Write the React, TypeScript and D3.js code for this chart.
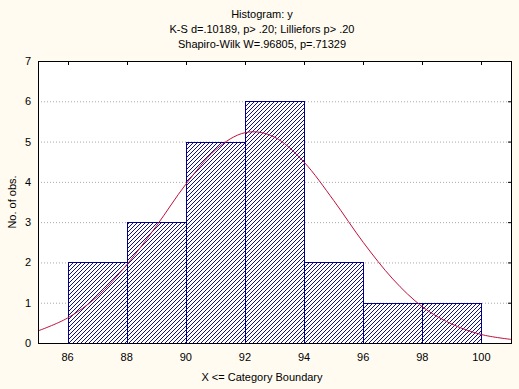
import React from 'react'
import * as d3 from 'd3'

// histogram bins (upper boundaries) and counts
const binEdges = [86, 88, 90, 92, 94, 96, 98, 100]
const counts = [2, 3, 5, 6, 2, 1, 1]

// fitted normal curve (expected counts)
const curveX = [85, 86, 87, 88, 89, 90, 91, 92, 93, 94, 95, 96, 97, 98, 99, 100, 101]
const curveY = [0.3, 0.62, 1.15, 1.94, 2.9, 3.94, 4.79, 5.22, 5.11, 4.49, 3.54, 2.5, 1.59, 0.9, 0.47, 0.21, 0.09]

const xTicks = [86, 88, 90, 92, 94, 96, 98, 100]
const yTicks = [0, 1, 2, 3, 4, 5, 6, 7]

const titles = [
  'Histogram: y',
  'K-S d=.10189, p> .20; Lilliefors p> .20',
  'Shapiro-Wilk W=.96805, p=.71329',
]

const W = 519
const H = 389
const m = { left: 38, right: 511, top: 61, bottom: 343 }

export default function App() {
  const x = d3.scaleLinear().domain([85, 101]).range([m.left, m.right])
  const y = d3.scaleLinear().domain([0, 7]).range([m.bottom, m.top])

  const line = d3
    .line<number>()
    .x((_, i) => x(curveX[i]))
    .y((d) => y(d))
    .curve(d3.curveCardinal)

  const font = '"Liberation Sans", Arial, sans-serif'

  return (
    <svg
      width={W}
      height={H}
      style={{ position: 'absolute', left: 0, top: 0, display: 'block' }}
      fontFamily={font}
      fontSize={11}
    >
      <defs>
        <pattern id="hatch" patternUnits="userSpaceOnUse" width={4} height={4}>
          <rect width={4} height={4} fill="#fff" />
          <g fill="#10107e" shapeRendering="crispEdges">
            <rect x={0} y={3} width={1} height={1} />
            <rect x={1} y={2} width={1} height={1} />
            <rect x={2} y={1} width={1} height={1} />
            <rect x={3} y={0} width={1} height={1} />
          </g>
        </pattern>
        <clipPath id="plot">
          <rect x={m.left} y={m.top} width={m.right - m.left} height={m.bottom - m.top} />
        </clipPath>
      </defs>
      <rect width={W} height={H} fill="#fffbf0" />
      <rect x={m.left} y={m.top} width={m.right - m.left} height={m.bottom - m.top} fill="#fff" />

      {titles.map((t, i) => (
        <text key={i} x={262} y={18 + i * 15} textAnchor="middle" fill="#000">
          {t}
        </text>
      ))}

      {/* grid */}
      {yTicks.slice(1, -1).map((t) => (
        <line
          key={t}
          x1={m.left}
          x2={m.right}
          y1={y(t) + 0.5}
          y2={y(t) + 0.5}
          stroke="#a8a8a8"
          strokeDasharray="1,2"
        />
      ))}

      {/* bars */}
      {counts.map((c, i) => {
        const x0 = Math.round(x(binEdges[i]))
        const x1 = Math.round(x(binEdges[i + 1]))
        const yt = Math.round(y(c))
        return (
          <rect
            key={i}
            x={x0 + 0.5}
            y={yt + 0.5}
            width={x1 - x0}
            height={Math.round(y(0)) - yt}
            fill="url(#hatch)"
            stroke="#000080"
            strokeWidth={1}
          />
        )
      })}

      <path
        d={line(curveY) || ''}
        fill="none"
        stroke="#c0103c"
        strokeWidth={1}
        clipPath="url(#plot)"
      />

      <rect
        x={m.left + 0.5}
        y={m.top + 0.5}
        width={m.right - m.left}
        height={m.bottom - m.top}
        fill="none"
        stroke="#000"
      />

      {/* top ticks */}
      {xTicks.map((t) => (
        <line key={t} x1={Math.round(x(t)) + 0.5} x2={Math.round(x(t)) + 0.5} y1={m.top} y2={m.top + 4} stroke="#000" />
      ))}
      {/* right ticks */}
      {yTicks.slice(1, -1).map((t) => (
        <line key={t} x1={m.right - 3} x2={m.right} y1={y(t) + 0.5} y2={y(t) + 0.5} stroke="#000" />
      ))}

      {xTicks.map((t) => (
        <text key={t} x={x(t)} y={361} textAnchor="middle" fill="#000">
          {t}
        </text>
      ))}
      {yTicks.map((t) => (
        <text key={t} x={31} y={y(t) + 4} textAnchor="end" fill="#000">
          {t}
        </text>
      ))}

      <text x={262} y={381} textAnchor="middle" fill="#000">
        X &lt;= Category Boundary
      </text>
      <text transform={`translate(16,${(m.top + m.bottom) / 2}) rotate(-90)`} textAnchor="middle" fill="#000">
        No. of obs.
      </text>
    </svg>
  )
}
